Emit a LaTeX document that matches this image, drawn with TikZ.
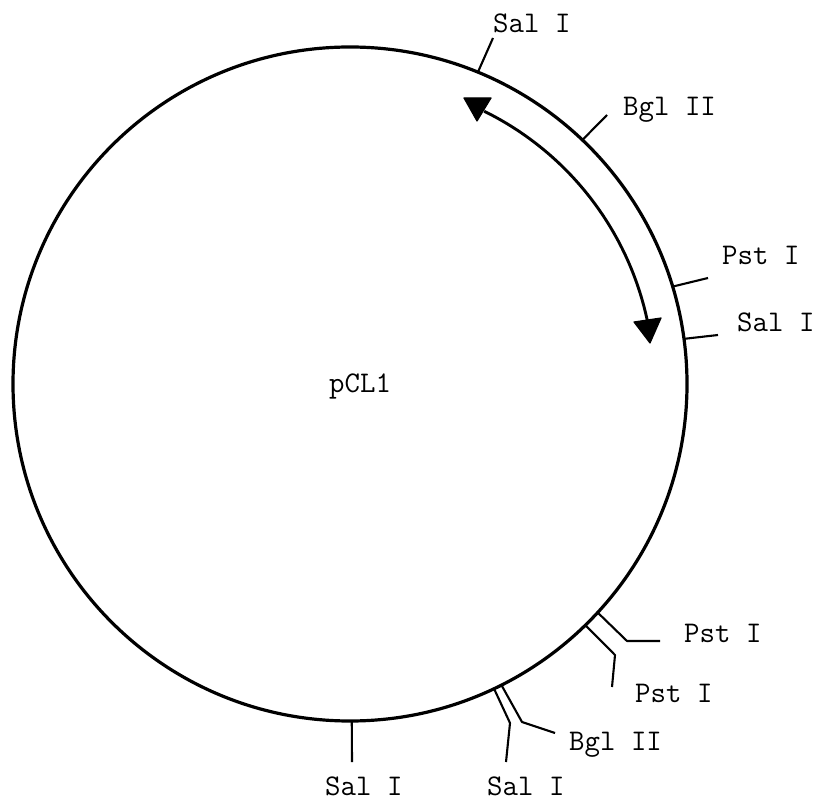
\documentclass[tikz,border=0pt]{standalone}
\usetikzlibrary{calc}
\begin{document}
\begin{tikzpicture}[x=1pt,y=1pt,
  lbl/.style={font=\fontsize{30}{30}\selectfont\ttfamily, anchor=base west, inner sep=0pt},
  tick/.style={line width=2.1pt, line join=round},
  ring/.style={line width=3.2pt},
  arcline/.style={line width=2.9pt},
  head/.style={fill=black, draw=black, line width=1.2pt, line join=round}]
\useasboundingbox (0,0) rectangle (818,801);
\coordinate (c) at (350,417);
\draw[ring] (c) circle (337);
% sites on the circle
\coordinate (p1) at ($(c)+(67.7:337)$);
\coordinate (p2) at ($(c)+(46.4:337)$);
\coordinate (p3) at ($(c)+(16.8:337)$);
\coordinate (p4) at ($(c)+(7.7:337)$);
\coordinate (p5) at ($(c)+(-42.7:337)$);
\coordinate (p6) at ($(c)+(-45.7:337)$);
\coordinate (p7) at ($(c)+(-63.3:337)$);
\coordinate (p8) at ($(c)+(-64.7:337)$);
\coordinate (p9) at ($(c)+(-89.7:337)$);
% tick ends
\coordinate (e1) at (493,763);
\coordinate (e2) at (607,686);
\coordinate (e3) at (708,523);
\coordinate (e4) at (718,466);
\coordinate (b5) at (627,160); \coordinate (e5) at (660,160);
\coordinate (b6) at (615,146); \coordinate (e6) at (612,114);
\coordinate (b7) at (522,79);  \coordinate (e7) at (555,68);
\coordinate (b8) at (510,78);  \coordinate (e8) at (506,39);
\coordinate (e9) at (352,39);
\draw[tick] (p1) -- (e1);
\draw[tick] (p2) -- (e2);
\draw[tick] (p3) -- (e3);
\draw[tick] (p4) -- (e4);
\draw[tick] (p5) -- (b5) -- (e5);
\draw[tick] (p6) -- (b6) -- (e6);
\draw[tick] (p7) -- (b7) -- (e7);
\draw[tick] (p8) -- (b8) -- (e8);
\draw[tick] (p9) -- (e9);
% labels
\node[lbl] (l1) at (493,768) {Sal I};
\node[lbl] (l2) at (623,685) {Bgl II};
\node[lbl] (l3) at (722,536) {Pst I};
\node[lbl] (l4) at (737,469) {Sal I};
\node[lbl] (l5) at (684,159) {Pst I};
\node[lbl] (l6) at (635,99) {Pst I};
\node[lbl] (l7) at (569,51) {Bgl II};
\node[lbl] (l8) at (487,6) {Sal I};
\node[lbl] (l9) at (325,6) {Sal I};
\node[lbl] (name) at (329,408) {pCL1};
% double arrow
\draw[arcline] ($(c)+(63.8:304)$) arc[start angle=63.8, end angle=11.8, radius=304];
\filldraw[head] (464,703) -- (491,703) -- (477,680) -- cycle;
\filldraw[head] (634,479) -- (661,483) -- (650,458) -- cycle;
\end{tikzpicture}
\end{document}
